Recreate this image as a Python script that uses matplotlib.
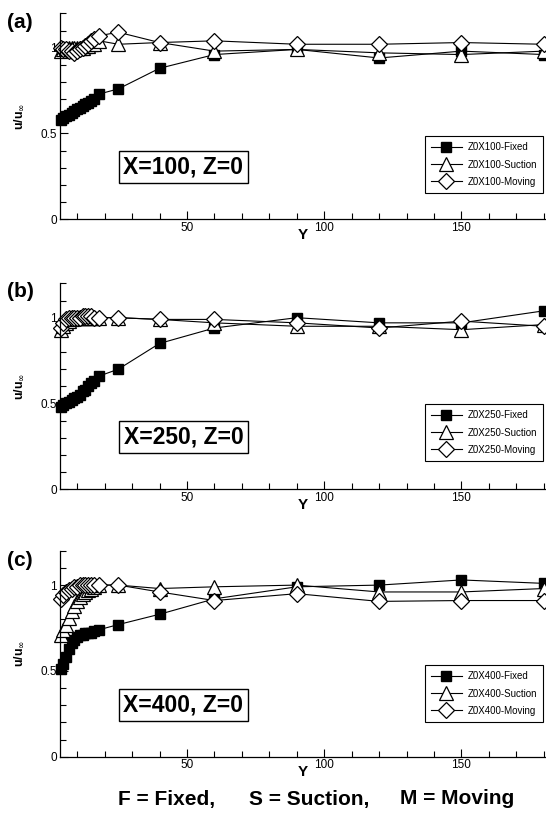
import matplotlib
matplotlib.use("Agg")
import matplotlib.pyplot as plt
from matplotlib.ticker import MultipleLocator, FixedLocator, FuncFormatter
from matplotlib import font_manager

# pick a narrow font if we have one
names = {f.name for f in font_manager.fontManager.ttflist}
narrow = 'Liberation Sans Narrow' if 'Liberation Sans Narrow' in names else 'Liberation Sans'
plt.rcParams['font.family'] = [narrow, 'DejaVu Sans']

# wall distance Y (same stations for all three cuts)
Y = [4, 5, 6, 7, 8, 9, 10, 11, 12, 13, 14, 15, 16, 18, 25, 40, 60, 90, 120, 150, 180]

# X=100
fixed_a = [0.58, 0.59, 0.60, 0.61, 0.62, 0.63, 0.64, 0.65, 0.66, 0.67, 0.68, 0.69, 0.70, 0.73, 0.76, 0.88, 0.96, 0.99, 0.94, 0.98, 0.96]
suction_a = [0.98, 0.99, 0.99, 1.00, 1.00, 1.00, 1.00, 1.00, 1.00, 1.01, 1.01, 1.02, 1.02, 1.04, 1.02, 1.03, 0.98, 0.99, 0.97, 0.96, 0.98]
moving_a = [1.00, 0.99, 0.99, 0.98, 0.98, 0.97, 0.98, 0.99, 1.00, 1.01, 1.02, 1.04, 1.05, 1.07, 1.09, 1.03, 1.04, 1.02, 1.02, 1.03, 1.02]

# X=250
fixed_b = [0.48, 0.49, 0.50, 0.51, 0.52, 0.53, 0.54, 0.55, 0.57, 0.58, 0.60, 0.62, 0.63, 0.66, 0.70, 0.85, 0.94, 1.00, 0.97, 0.97, 1.04]
suction_b = [0.93, 0.95, 0.97, 0.98, 0.99, 1.00, 1.00, 1.00, 1.00, 1.00, 1.00, 1.00, 1.00, 1.00, 1.00, 0.99, 0.97, 0.95, 0.95, 0.93, 0.96]
moving_b = [0.94, 0.97, 0.99, 1.00, 1.00, 1.00, 1.00, 1.00, 1.01, 1.01, 1.01, 1.01, 1.00, 1.00, 1.00, 0.99, 0.99, 0.97, 0.94, 0.98, 0.95]

# X=400
fixed_c = [0.51, 0.54, 0.58, 0.63, 0.66, 0.68, 0.70, 0.71, 0.71, 0.72, 0.72, 0.72, 0.73, 0.74, 0.77, 0.83, 0.92, 0.99, 1.00, 1.03, 1.01]
suction_c = [0.71, 0.74, 0.77, 0.81, 0.85, 0.88, 0.91, 0.93, 0.95, 0.96, 0.97, 0.98, 0.99, 1.00, 1.00, 0.98, 0.99, 1.00, 0.96, 0.96, 0.98]
moving_c = [0.92, 0.94, 0.96, 0.97, 0.98, 0.99, 0.99, 1.00, 1.00, 1.00, 1.00, 1.00, 1.00, 1.00, 1.00, 0.96, 0.91, 0.95, 0.905, 0.91, 0.91]

panels = [
    ("(a)", "X=100, Z=0", "Z0X100", fixed_a, suction_a, moving_a),
    ("(b)", "X=250, Z=0", "Z0X250", fixed_b, suction_b, moving_b),
    ("(c)", "X=400, Z=0", "Z0X400", fixed_c, suction_c, moving_c),
]

W, H = 546, 823
fig = plt.figure(figsize=(W / 100, H / 100), dpi=100)

left_px = 59.9
bottoms = [219.3, 489.3, 756.7]   # pixel row of the x axis
ax_h = 206.1
leg_bottom = [0.129, 0.139, 0.17]
box_y = [0.255, 0.255, 0.252]
lab_y = [22.5, 291, 561]

for i, (tag, note, key, fx, su, mv) in enumerate(panels):
    ax = fig.add_axes([left_px / W, 1 - bottoms[i] / H, 1 - left_px / W, ax_h / H])
    ax.plot(Y, fx, '-', color='k', lw=0.8, marker='s', ms=7.5, mfc='k', mec='k',
            label=key + "-Fixed", clip_on=False)
    ax.plot(Y, su, '-', color='k', lw=0.8, marker='^', ms=9.5, mfc='white', mec='k', mew=0.9,
            label=key + "-Suction", clip_on=False)
    ax.plot(Y, mv, '-', color='k', lw=0.8, marker='D', ms=8, mfc='white', mec='k', mew=0.9,
            label=key + "-Moving", clip_on=False)

    ax.set_xlim(3.7, 180.8)
    ax.set_ylim(0, 1.201)
    for s in ['top', 'right']:
        ax.spines[s].set_visible(False)
    ax.spines['left'].set_linewidth(0.9)
    ax.spines['bottom'].set_linewidth(0.9)

    ax.xaxis.set_major_locator(FixedLocator([50, 100, 150]))
    ax.xaxis.set_minor_locator(MultipleLocator(10))
    ax.yaxis.set_major_locator(FixedLocator([0, 0.5, 1]))
    ax.yaxis.set_minor_locator(MultipleLocator(0.1))
    ax.yaxis.set_major_formatter(FuncFormatter(lambda v, p: "%g" % v))
    ax.tick_params(which='major', direction='in', length=6, width=0.8, labelsize=8.5, pad=2)
    ax.tick_params(which='minor', direction='in', length=4, width=0.8)

    ax.text(92.3, -0.076, "Y", transform=ax.get_xaxis_transform(), ha='center', va='center',
            fontsize=11, fontweight='bold')

    ax.text(48.7, box_y[i], note, transform=ax.get_xaxis_transform(), ha='center', va='center',
            fontsize=16.5, fontweight='bold',
            bbox=dict(boxstyle='square,pad=0.2', fc='white', ec='k', lw=1))

    leg = ax.legend(loc='lower right', bbox_to_anchor=(0.994, leg_bottom[i]), borderaxespad=0,
                    fontsize=7, frameon=True, fancybox=False, edgecolor='k', framealpha=1,
                    handlelength=3.2, handletextpad=0.6, borderpad=0.6, labelspacing=0.75,
                    numpoints=1)
    leg.get_frame().set_linewidth(0.8)

    fig.text(20 / W, 1 - lab_y[i] / H, tag, ha='center', va='center', fontsize=15, fontweight='bold')
    fig.text(19 / W, 1 - (bottoms[i] - ax_h / 2) / H, r"u/u$_{\infty}$", rotation=90,
             ha='center', va='center', fontsize=9, fontweight='bold')

fig.text(118 / W, 1 - 799 / H, "F = Fixed,", ha='left', va='center', fontsize=15, fontweight='bold')
fig.text(249 / W, 1 - 799 / H, "S = Suction,", ha='left', va='center', fontsize=15, fontweight='bold')
fig.text(400 / W, 1 - 799 / H, "M = Moving", ha='left', va='center', fontsize=15, fontweight='bold')

fig.savefig("out.png", dpi=100)
